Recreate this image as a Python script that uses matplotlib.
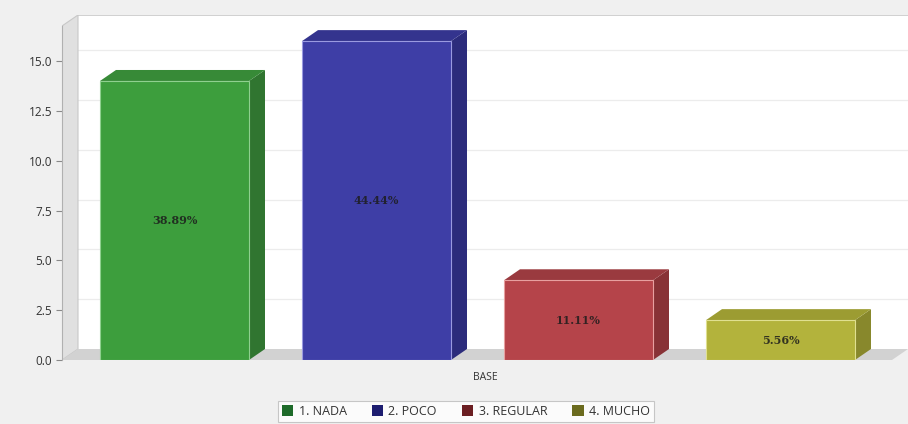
import matplotlib
matplotlib.use("Agg")
import matplotlib.pyplot as plt
from matplotlib.patches import Polygon, Rectangle

# Data
categories = ["1. NADA", "2. POCO", "3. REGULAR", "4. MUCHO"]
values = [14, 16, 4, 2]
percent_labels = ["38.89%", "44.44%", "11.11%", "5.56%"]
group_label = "BASE"
yticks = [0.0, 2.5, 5.0, 7.5, 10.0, 12.5, 15.0]

front_colors = ["#3d9e3d", "#3e3ea6", "#b5444a", "#b3b33c"]
top_colors = ["#378a37", "#34348e", "#9a3a3f", "#9c9c32"]
side_colors = ["#307530", "#2c2c7c", "#883236", "#88882c"]
legend_colors = ["#1e6b2a", "#1d1d70", "#6b1e22", "#6b6b1e"]
edge_colors = ["#8fd08f", "#9a9ae0", "#e8a0a0", "#e0e090"]

W, H = 908, 424
fig = plt.figure(figsize=(W / 100, H / 100), dpi=100)
fig.patch.set_facecolor("#f0f0f0")

# plot area: left at 62 px, right at 908 px, y=0 at 360 px, top at 15 px
ax_left, ax_right = 62, 908
ax_bottom, ax_top = 360, 15
ax = fig.add_axes([ax_left / W, 1 - ax_bottom / H,
                   (ax_right - ax_left) / W, (ax_bottom - ax_top) / H])
ax.set_facecolor("none")

px_per_unit_y = 19.93
ymax = (ax_bottom - ax_top) / px_per_unit_y
spacing_px = 202.0
x0 = -112.5 / spacing_px
x1 = x0 + (ax_right - ax_left) / spacing_px
ax.set_xlim(x0, x1)
ax.set_ylim(0, ymax)

dx = 16 / spacing_px          # depth offset in x (data units)
dy = 11 / px_per_unit_y       # depth offset in y (data units)
bar_w = 149 / spacing_px

# back wall
ax.add_patch(Polygon([(x0 + dx, dy), (x1, dy), (x1, ymax), (x0 + dx, ymax)],
                     closed=True, facecolor="white", edgecolor="none", zorder=0))
ax.plot([x0 + dx, x1], [ymax, ymax], color="#c8c8c8", lw=1.2, zorder=1)
# gridlines on back wall
for t in yticks[1:]:
    ax.plot([x0 + dx, x1], [t + dy, t + dy], color="#ececec", lw=0.9, zorder=1)

# left wall
ax.add_patch(Polygon([(x0, 0), (x0 + dx, dy), (x0 + dx, ymax), (x0, ymax - dy)],
                     closed=True, facecolor="#e0e0e0", edgecolor="#c8c8c8",
                     lw=0.8, zorder=1))
# floor
ax.add_patch(Polygon([(x0, 0), (x1 - dx, 0), (x1, dy), (x0 + dx, dy)],
                     closed=True, facecolor="#d2d2d2", edgecolor="none", zorder=1))

# bars in 3D
for i, (v, lab) in enumerate(zip(values, percent_labels)):
    left = i - bar_w / 2
    right = i + bar_w / 2
    # side face
    ax.add_patch(Polygon([(right, 0), (right + dx, dy), (right + dx, v + dy), (right, v)],
                         closed=True, facecolor=side_colors[i], edgecolor="none", zorder=3))
    # top face
    ax.add_patch(Polygon([(left, v), (left + dx, v + dy), (right + dx, v + dy), (right, v)],
                         closed=True, facecolor=top_colors[i], edgecolor="none", zorder=3))
    # front face
    ax.add_patch(Rectangle((left, 0), bar_w, v, facecolor=front_colors[i],
                           edgecolor=edge_colors[i], lw=0.8, zorder=4))
    ax.text(i, v / 2, lab, ha="center", va="center", fontsize=8,
            fontweight="bold", family="DejaVu Serif", color="#1c1c1c",
            alpha=0.85, zorder=5)

# y axis
ax.set_yticks(yticks)
ax.set_yticklabels([f"{t:.1f}" for t in yticks], fontsize=8.5,
                   color="#333333", family="Open Sans")
ax.tick_params(axis="y", length=4, width=0.8, color="#888888", pad=3)
ax.set_xticks([(x0 + x1) / 2])
ax.set_xticklabels([group_label], fontsize=7.5, color="#333333", family="Open Sans")
ax.tick_params(axis="x", length=0, pad=9)
for s in ["top", "right", "bottom"]:
    ax.spines[s].set_visible(False)
ax.spines["left"].set_color("#b0b0b0")
ax.spines["left"].set_linewidth(0.8)
ax.spines["left"].set_bounds(0, ymax - dy)

# legend
handles = [Rectangle((0, 0), 1, 1, facecolor=c, edgecolor="none") for c in legend_colors]
leg = fig.legend(handles, categories, loc="upper center", ncol=4,
                 bbox_to_anchor=(466 / W, (H - 401) / H),
                 prop={"family": "Open Sans", "size": 9},
                 frameon=True, fancybox=False, handlelength=0.9, handleheight=0.9,
                 handletextpad=0.45, columnspacing=2.0, borderpad=0.3,
                 borderaxespad=0)
leg.get_frame().set_edgecolor("#bbbbbb")
leg.get_frame().set_facecolor("white")
leg.get_frame().set_linewidth(0.8)
for t in leg.get_texts():
    t.set_color("#333333")

fig.savefig("out.png", dpi=100, facecolor=fig.get_facecolor())
